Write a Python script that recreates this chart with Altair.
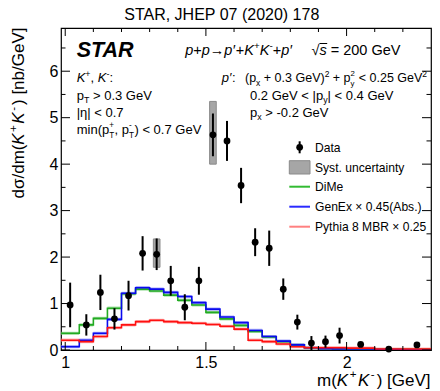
import altair as alt
import pandas as pd

# ---------------- data ----------------
mass_center = [1.0175, 1.075, 1.125, 1.175, 1.225, 1.275, 1.325, 1.375, 1.425, 1.475,
               1.525, 1.575, 1.625, 1.675, 1.725, 1.775, 1.825, 1.875, 1.925, 1.975,
               2.05, 2.15, 2.25]
xsec = [0.97, 0.54, 1.24, 0.67, 1.17, 2.08, 2.06, 1.49, 0.92, 1.49,
        4.63, 4.50, 3.54, 2.32, 2.19, 1.31, 0.60, 0.15, 0.18, 0.31,
        0.12, 0.02, 0.11]
stat_err = [0.48, 0.23, 0.38, 0.23, 0.32, 0.37, 0.34, 0.32, 0.28, 0.30,
            0.46, 0.43, 0.38, 0.30, 0.38, 0.23, 0.16, 0.15, 0.13, 0.17,
            0.05, 0.03, 0.05]
syst_center = [1.325, 1.525]
syst_lo = [1.78, 4.00]
syst_hi = [2.39, 5.35]

bin_edges = [0.985, 1.05, 1.10, 1.15, 1.20, 1.25, 1.30, 1.35, 1.40, 1.45, 1.50,
             1.55, 1.60, 1.65, 1.70, 1.75, 1.80, 1.85, 1.90, 1.95, 2.00,
             2.10, 2.20, 2.30]
dime = [0.36, 0.54, 0.68, 0.90, 1.21, 1.31, 1.27, 1.18, 1.07, 0.97,
        0.81, 0.67, 0.53, 0.40, 0.28, 0.18, 0.11, 0.05, 0.03, 0.02,
        0.015, 0.01, 0.01]
genex = [0.07, 0.21, 0.36, 0.66, 1.22, 1.34, 1.31, 1.24, 1.15, 1.02,
         0.88, 0.71, 0.59, 0.42, 0.29, 0.19, 0.11, 0.05, 0.03, 0.02,
         0.02, 0.01, 0.005]
pythia = [0.21, 0.18, 0.29, 0.48, 0.54, 0.61, 0.64, 0.61, 0.59, 0.575,
          0.55, 0.51, 0.45, 0.21, 0.18, 0.13, 0.07, 0.05, 0.05, 0.05,
          0.04, 0.02, 0.02]

x_major = [1.0, 1.5, 2.0]
x_minor = [1.1, 1.2, 1.3, 1.4, 1.6, 1.7, 1.8, 1.9, 2.1, 2.2]
y_major = [0, 1, 2, 3, 4, 5, 6]
y_minor = [0.5, 1.5, 2.5, 3.5, 4.5, 5.5, 6.5]

X_DOMAIN = [0.985, 2.30]
Y_DOMAIN = [0, 6.93]

# ---------------- layout ----------------
PAD_L, PAD_T = 53, 20
PX0, PY0 = 8 + PAD_L, 8 + PAD_T          # page position of the plot's corner
W, H = 370, 322
FONT = "Liberation Sans"
NB = "\u00a0"


def px(x):
    return x - PX0


def py(y):
    return y - PY0


xs = alt.Scale(domain=X_DOMAIN, nice=False, zero=False)
ys = alt.Scale(domain=Y_DOMAIN, nice=False, zero=False)
xaxis = alt.Axis(values=x_major, format="~g", title=None, ticks=False, tickSize=0,
                 domain=False, grid=False, labelFontSize=16, labelFont=FONT,
                 labelColor="black", labelPadding=4, labelFlush=False)
yaxis = alt.Axis(values=y_major, format="d", title=None, ticks=False, tickSize=0,
                 domain=False, grid=False, labelFontSize=16, labelFont=FONT,
                 labelColor="black", labelPadding=3, labelFlush=False,
                 labelExpr="datum.value == 0 ? '0" + NB + NB + "' : datum.label")


def X(field):
    return alt.X(field, type="quantitative", scale=xs, axis=xaxis)


def Y(field):
    return alt.Y(field, type="quantitative", scale=ys, axis=yaxis)


layers = []

# histograms
models = [(dime, "#22aa22", "#77d077"),
          (genex, "#0a0aee", "#7777ff"),
          (pythia, "#ff1010", "#ff8a8a")]
for vals, col, light in models:
    v = list(vals) + [vals[-1]]
    df = pd.DataFrame({"edge": bin_edges, "v": v,
                       "lo": [max(a - 0.035, 0) for a in v],
                       "hi": [a + 0.035 for a in v]})
    layers.append(alt.Chart(df).mark_area(interpolate="step-after", color=light,
                                          opacity=0.6, clip=True)
                  .encode(x=X("edge"), y=Y("lo"), y2="hi"))
for vals, col, light in models:
    v = list(vals) + [vals[-1]]
    df = pd.DataFrame({"edge": bin_edges, "v": v})
    layers.append(alt.Chart(df).mark_line(interpolate="step-after", color=col,
                                          strokeWidth=1.6, clip=True)
                  .encode(x=X("edge"), y=Y("v")))

# systematic boxes
sdf = pd.DataFrame({"c": syst_center, "lo": syst_lo, "hi": syst_hi})
sdf["x1"] = sdf["c"] - 0.0118
sdf["x2"] = sdf["c"] + 0.0118
layers.append(alt.Chart(sdf).mark_rect(fill="#a6a6a6", stroke="#8a8a8a", strokeWidth=1)
              .encode(x=X("x1"), x2="x2", y=Y("lo"), y2="hi"))

# data with stat errors
ddf = pd.DataFrame({"m": mass_center, "y": xsec, "e": stat_err})
ddf["lo"] = (ddf["y"] - ddf["e"]).clip(lower=0)
ddf["hi"] = ddf["y"] + ddf["e"]
layers.append(alt.Chart(ddf).mark_rule(color="black", strokeWidth=2)
              .encode(x=X("m"), y=Y("lo"), y2="hi"))
layers.append(alt.Chart(ddf).mark_point(filled=True, color="black", size=46, opacity=1)
              .encode(x=X("m"), y=Y("y")))


# inward ticks on all four sides
def xticks(vals, length):
    df = pd.DataFrame({"t": vals})
    return [alt.Chart(df).mark_rule(color="black", strokeWidth=1)
            .encode(x=X("t"), y=alt.value(H), y2=alt.value(H - length)),
            alt.Chart(df).mark_rule(color="black", strokeWidth=1)
            .encode(x=X("t"), y=alt.value(0), y2=alt.value(length))]


def yticks(vals, length):
    df = pd.DataFrame({"t": vals})
    return [alt.Chart(df).mark_rule(color="black", strokeWidth=1)
            .encode(y=Y("t"), x=alt.value(0), x2=alt.value(length)),
            alt.Chart(df).mark_rule(color="black", strokeWidth=1)
            .encode(y=Y("t"), x=alt.value(W), x2=alt.value(W - length))]


layers += xticks(x_major, 8) + xticks(x_minor, 4)
layers += yticks(y_major, 9) + yticks(y_minor, 4.5)

# ---------------- text helpers ----------------
WID = {' ': 278, '!': 278, '(': 333, ')': 333, '+': 584, ',': 278, '-': 333, '.': 278,
       '/': 278, ':': 278, '<': 584, '=': 584, '>': 584, '[': 278, ']': 278,
       'A': 667, 'E': 667, 'G': 778, 'H': 722, 'J': 500, 'K': 667, 'M': 833, 'P': 667,
       'R': 722, 'S': 667, 'T': 611, 'V': 667, 'a': 556, 'b': 556, 'c': 500, 'd': 556,
       'e': 556, 'h': 556, 'i': 222, 'm': 833, 'n': 556, 'p': 556, 'r': 333, 's': 500,
       't': 278, 'u': 556, 'x': 500, 'y': 500, '|': 260, 'η': 556, '′': 240, '→': 1000,
       '√': 549, '×': 584, '−': 584, 'σ': 600, '2': 556}


def tw(s, size):
    return sum(WID.get(c, 556) for c in s) / 1000.0 * size


ONE = pd.DataFrame({"a": [0]})


def txt(x, y, t, size, dx=0.0, dy=0.0, angle=0, italic=False, weight="normal"):
    # leading blanks are collapsed by SVG: turn them into an offset instead
    n = len(t) - len(t.lstrip(" "))
    dx = dx + n * tw(" ", size)
    t = t.lstrip(" ")
    kw = dict(text=t, fontSize=size, font=FONT, align="left", baseline="alphabetic",
              dx=dx, dy=dy, color="black", fontStyle="italic" if italic else "normal",
              fontWeight=weight)
    if angle:
        kw["angle"] = angle
    return alt.Chart(ONE).mark_text(**kw).encode(x=alt.value(x), y=alt.value(y))


def seg(x, y, parts, size, angle=0, dry=False):
    out = []
    cx = 0.0
    s2 = size * 0.68
    for kind, t in parts:
        if kind in ("n", "i"):
            if not dry:
                out.append(txt(x, y, t, size, cx, 0, angle, kind == "i"))
            cx += tw(t, size)
        elif kind == "gap":
            cx += t
        elif kind == "sup":
            if not dry:
                out.append(txt(x, y, t, s2, cx, -size * 0.42, angle))
            cx += tw(t, s2)
        elif kind == "sub":
            if not dry:
                out.append(txt(x, y, t, s2, cx, size * 0.26, angle))
            cx += tw(t, s2)
        elif kind == "supsub":
            a, b = t
            if not dry:
                out.append(txt(x, y, a, s2 * 0.92, cx, -size * 0.47, angle))
                out.append(txt(x, y, b, s2 * 0.92, cx, size * 0.31, angle))
            cx += max(tw(a, s2), tw(b, s2))
    return out, cx


def width_of(parts, size):
    return seg(0, 0, parts, size, dry=True)[1]


# chart title (centered on the whole canvas)
title = "STAR, JHEP 07 (2020) 178"
layers.append(txt(px(222.5) - tw(title, 16) / 2, py(20.4), title, 16))

# axis titles
ytitle = [("n", "dσ/dm("), ("i", "K"), ("gap", 1.5), ("sup", "+"), ("gap", 1.5), ("i", "K"),
          ("gap", 1.5), ("sup", "-"), ("gap", 2), ("n", ") [nb/GeV]")]
yw = width_of(ytitle, 17)
layers += seg(px(23.8), py(27.5) + yw, ytitle, 17, angle=270)[0]

xtitle = [("n", "m("), ("i", "K"), ("gap", 1.5), ("sup", "+"), ("gap", 1.5), ("i", "K"),
          ("gap", 1.5), ("sup", "-"), ("gap", 2), ("n", ") [GeV]")]
xw = width_of(xtitle, 17)
layers += seg(px(430.5) - xw, py(385.5), xtitle, 17)[0]

# STAR logo text and reaction
layers.append(txt(px(76.7), py(56.8), "STAR", 21.5, italic=True, weight="bold"))
react = [("i", "p"), ("n", "+"), ("i", "p"), ("n", "→"), ("i", "p′"), ("n", "+"), ("i", "K"),
         ("sup", "+"), ("i", "K"), ("sup", "-"), ("n", "+"), ("i", "p′")]
layers += seg(px(185.2), py(55.1), react, 14.5)[0]
sq = [("n", "√"), ("i", "s"), ("n", " = 200 GeV")]
layers += seg(px(311.5), py(55.1), sq, 14.5)[0]
ox = px(311.5) + tw("√", 14.5)
layers.append(alt.Chart(ONE).mark_rule(color="black", strokeWidth=1)
              .encode(x=alt.value(ox), x2=alt.value(ox + tw("s", 14.5) + 0.5),
                      y=alt.value(py(55.1) - 11.6)))

# kaon cuts
FS = 13
base = [py(82.3), py(99.6), py(116.8), py(134.1)]
KX = px(76.7)
layers += seg(KX, base[0], [("i", "K"), ("sup", "+"), ("n", ", "), ("i", "K"), ("sup", "-"),
                            ("n", ":")], FS)[0]
layers += seg(KX, base[1], [("n", "p"), ("sub", "T"), ("n", " > 0.3 GeV")], FS)[0]
layers += seg(KX, base[2], [("n", "|η| < 0.7")], FS)[0]
layers += seg(KX, base[3], [("n", "min(p"), ("supsub", ("+", "T")), ("n", ", p"),
                            ("supsub", ("-", "T")), ("n", ") < 0.7 GeV")], FS)[0]

# proton cuts
layers += seg(px(221.7), base[0], [("i", "p′"), ("n", ":")], FS)[0]
layers += seg(px(245.0), base[0], [("n", "(p"), ("sub", "x"), ("n", " + 0.3 GeV)"),
                                   ("sup", "2"), ("n", " + p"), ("supsub", ("2", "y")),
                                   ("n", " < 0.25 GeV"), ("sup", "2")], 12.5)[0]
layers += seg(px(250.0), base[1], [("n", "0.2 GeV < |p"), ("sub", "y"),
                                   ("n", "| < 0.4 GeV")], FS)[0]
layers += seg(px(250.0), base[2], [("n", "p"), ("sub", "x"), ("n", " > -0.2 GeV")], FS)[0]

# ---------------- legend ----------------
LX0, LX1, LTX = px(289.3), px(310.0), px(315.0)
LFS = 12.1
layers.append(alt.Chart(ONE).mark_rule(color="black", strokeWidth=2)
              .encode(x=alt.value((LX0 + LX1) / 2), y=alt.value(py(141.3)),
                      y2=alt.value(py(153.3))))
layers.append(alt.Chart(ONE).mark_point(filled=True, color="black", size=46, opacity=1)
              .encode(x=alt.value((LX0 + LX1) / 2), y=alt.value(py(147.3))))
layers.append(txt(LTX, py(151.6), "Data", LFS))
layers.append(alt.Chart(ONE).mark_rect(fill="#a6a6a6", stroke="#8a8a8a", strokeWidth=1)
              .encode(x=alt.value(LX0), x2=alt.value(LX1), y=alt.value(py(160.7)),
                      y2=alt.value(py(174.0))))
layers.append(txt(LTX, py(171.6), "Syst. uncertainty", LFS))
legend_lines = [(186.7, "#33bb33", "DiMe"),
                (206.7, "#2a2aff", "GenEx × 0.45(Abs.)"),
                (226.7, "#ff8080", "Pythia 8 MBR × 0.25")]
for ly, col, lab in legend_lines:
    layers.append(alt.Chart(ONE).mark_rule(color=col, strokeWidth=2)
                  .encode(x=alt.value(LX0), x2=alt.value(LX1), y=alt.value(py(ly))))
    layers.append(txt(LTX, py(ly) + 4.4, lab, LFS))

chart = (alt.layer(*layers)
         .properties(width=W, height=H,
                     autosize=alt.AutoSizeParams(type="none"),
                     padding={"left": PAD_L, "top": PAD_T, "right": 1, "bottom": 41})
         .configure(background="white")
         .configure_view(stroke="black", strokeWidth=1.2))

chart.save("out.html", embed_options={"renderer": "svg", "actions": False})
